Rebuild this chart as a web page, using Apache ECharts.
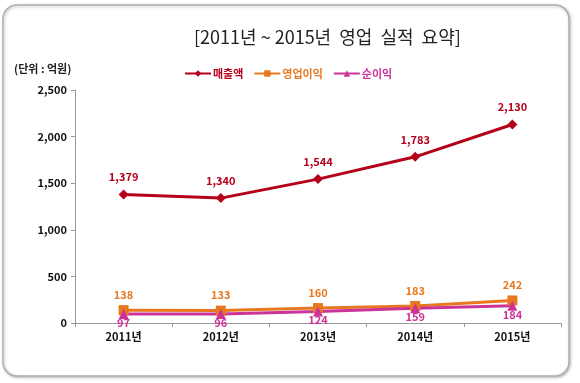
<!DOCTYPE html>
<html><head><meta charset="utf-8">
<script src="https://cdn.jsdelivr.net/npm/echarts@6/dist/echarts.min.js"></script>
<style>html,body{margin:0;padding:0;background:#fff}#c{width:580px;height:383px}</style>
</head><body><div id="c"></div>
<script>
const categories = ['2011년','2012년','2013년','2014년','2015년'];
const revenue = [1379,1340,1544,1783,2130];
const operatingProfit = [138,133,160,183,242];
const netProfit = [97,96,124,159,184];
const yTicks = [0,500,1000,1500,2000,2500];
const seriesNames = ['매출액','영업이익','순이익'];

const F = '"Noto Sans CJK KR", "Noto Sans", sans-serif';
const colors = ['#b5001a','#e8781f','#cc3399'];
const chart = echarts.init(document.getElementById('c'));
const fmt = v => v.value.toLocaleString('en-US');
chart.setOption({
  animation:false,
  graphic:[{type:'rect',shape:{x:3,y:5,width:566,height:371,r:14},style:{fill:'#fff',stroke:'#b0b0b0',lineWidth:1.5,shadowBlur:3,shadowColor:'rgba(0,0,0,0.25)',shadowOffsetX:1,shadowOffsetY:1},z:-10},
    {type:'text',left:14,top:63,style:{text:'(단위 : 억원)',font:'bold 11px '+F,fill:'#222'}}],
  title:{text:'[2011년 ~ 2015년  영업  실적  요약]',left:189,top:23,textStyle:{fontFamily:F,fontSize:18,fontWeight:'normal',color:'#222'}},
  legend:{left:179,top:63,itemWidth:26,itemHeight:8,itemGap:10,
    data:seriesNames.map((n,i)=>({name:n,textStyle:{color:colors[i]}})),
    textStyle:{fontFamily:F,fontSize:11,fontWeight:'bold',padding:[0,0,0,-3]}},
  grid:{left:75,right:19,top:90,bottom:60},
  xAxis:{type:'category',data:categories,boundaryGap:true,
    axisLine:{lineStyle:{color:'#999'}},axisTick:{show:true,length:4,lineStyle:{color:'#999'}},
    axisLabel:{color:'#111',fontFamily:F,fontSize:11,fontWeight:'bold',margin:8}},
  yAxis:{type:'value',min:yTicks[0],max:yTicks[yTicks.length-1],interval:500,
    axisLine:{show:true,lineStyle:{color:'#999'}},axisTick:{show:true,length:4,lineStyle:{color:'#999'}},
    splitLine:{show:false},
    axisLabel:{color:'#111',fontFamily:F,fontSize:11,fontWeight:'bold',margin:8,formatter:v=>v.toLocaleString('en-US')}},
  series:[
    {name:seriesNames[0],type:'line',data:revenue,symbol:'diamond',symbolSize:10,color:colors[0],lineStyle:{width:3,color:colors[0]},
      label:{show:true,position:'top',distance:7,color:colors[0],fontFamily:F,fontSize:11,fontWeight:'bold',formatter:fmt}},
    {name:seriesNames[1],type:'line',data:operatingProfit,symbol:'rect',symbolSize:10,color:colors[1],lineStyle:{width:3,color:colors[1]},
      label:{show:true,position:'top',distance:5,color:colors[1],fontFamily:F,fontSize:11,fontWeight:'bold',formatter:fmt}},
    {name:seriesNames[2],type:'line',data:netProfit,symbol:'triangle',symbolSize:10,color:colors[2],lineStyle:{width:3,color:colors[2]},
      label:{show:true,position:'bottom',distance:-2,color:colors[2],fontFamily:F,fontSize:11,fontWeight:'bold',formatter:fmt}}
  ]
});
</script></body></html>
